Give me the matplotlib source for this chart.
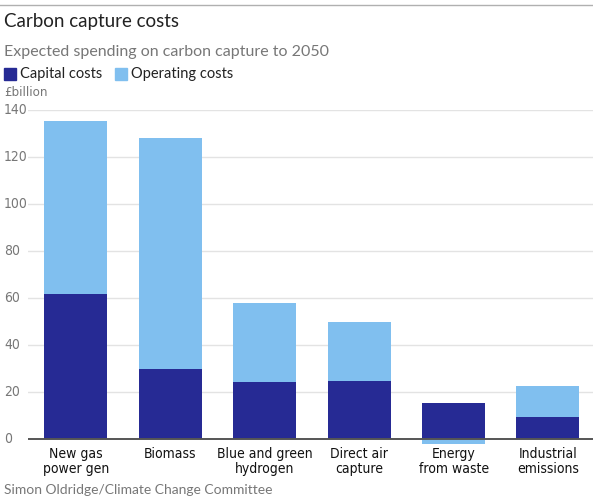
import matplotlib
matplotlib.use("Agg")
import matplotlib.pyplot as plt
from matplotlib.patches import Rectangle
import numpy as np

# --- data ------------------------------------------------------------------
categories = ["New gas\npower gen", "Biomass", "Blue and green\nhydrogen",
              "Direct air\ncapture", "Energy\nfrom waste", "Industrial\nemissions"]
capital = [62, 30, 24.5, 25, 15.5, 9.5]
operating = [73.5, 98, 33.5, 25, -2, 13]
y_ticks = [0, 20, 40, 60, 80, 100, 120, 140]

CAPITAL_COL = "#262a94"
OPERATING_COL = "#80bfef"
GREY = "#777777"

COND = dict(family="DejaVu Sans", stretch="condensed")
SANS = ["Lato", "DejaVu Sans"]

fig = plt.figure(figsize=(5.93, 5.01), dpi=100)
fig.patch.set_facecolor("white")

ax = fig.add_axes([28 / 593, 1 - 446.3 / 501, 565 / 593, 336 / 501])
x = np.arange(len(categories))
w = 0.667

ax.bar(x, capital, width=w, color=CAPITAL_COL, zorder=3)
# operating costs stack on top of capital; negative ones hang below zero
op_bottom = [c if o >= 0 else 0 for c, o in zip(capital, operating)]
ax.bar(x, operating, width=w, bottom=op_bottom, color=OPERATING_COL, zorder=2)

ax.set_xlim(-0.508, 5.477)
ax.set_ylim(-3, 140)
for t in y_ticks:
    if t == 0:
        continue
    ax.axhline(t, color="#e3e3e3", lw=1.0, zorder=0)
ax.axhline(0, color="#555555", lw=1.4, zorder=4)

for s in ax.spines.values():
    s.set_visible(False)
ax.set_yticks(y_ticks)
ax.set_yticklabels([])
ax.tick_params(left=False, bottom=False)
ax.set_xticks(x)
ax.set_xticklabels(categories, fontsize=10, color="#111111",
                   linespacing=1.05, **COND)
ax.tick_params(axis="x", pad=-3)

# y labels hug the left edge of the figure
for t in y_ticks:
    yy = ax.transData.transform((0, t))[1]
    fig.text(4 / 593, yy / fig.dpi / 5.01, str(t),
             fontsize=10, color=GREY, ha="left", va="center", **COND)

# header
fig.add_artist(plt.Line2D([0, 1], [1 - 5 / 501, 1 - 5 / 501], color="#b0b0b0", lw=1))
fig.text(4 / 593, 1 - 21 / 501, "Carbon capture costs", family=SANS,
         fontsize=13.5, color="#222222", va="center", ha="left")
fig.text(4 / 593, 1 - 52 / 501, "Expected spending on carbon capture to 2050",
         family=SANS, fontsize=11.5, color=GREY, va="center", ha="left")

ly = 1 - 74 / 501
fig.add_artist(Rectangle((4 / 593, ly - 5.5 / 501), 12 / 593, 12 / 501,
                         color=CAPITAL_COL, transform=fig.transFigure))
fig.text(20 / 593, ly, "Capital costs", family=SANS, fontsize=10.5,
         color="#222222", va="center", ha="left")
fig.add_artist(Rectangle((115 / 593, ly - 5.5 / 501), 12 / 593, 12 / 501,
                         color=OPERATING_COL, transform=fig.transFigure))
fig.text(131 / 593, ly, "Operating costs", family=SANS, fontsize=10.5,
         color="#222222", va="center", ha="left")

fig.text(4 / 593, 1 - 93 / 501, "£billion", fontsize=9.5,
         color=GREY, va="center", ha="left", **COND)
fig.text(4 / 593, 1 - 490 / 501, "Simon Oldridge/Climate Change Committee",
         family=SANS, fontsize=10, color=GREY, va="center", ha="left")

fig.savefig("out.png", dpi=100, facecolor="white")
